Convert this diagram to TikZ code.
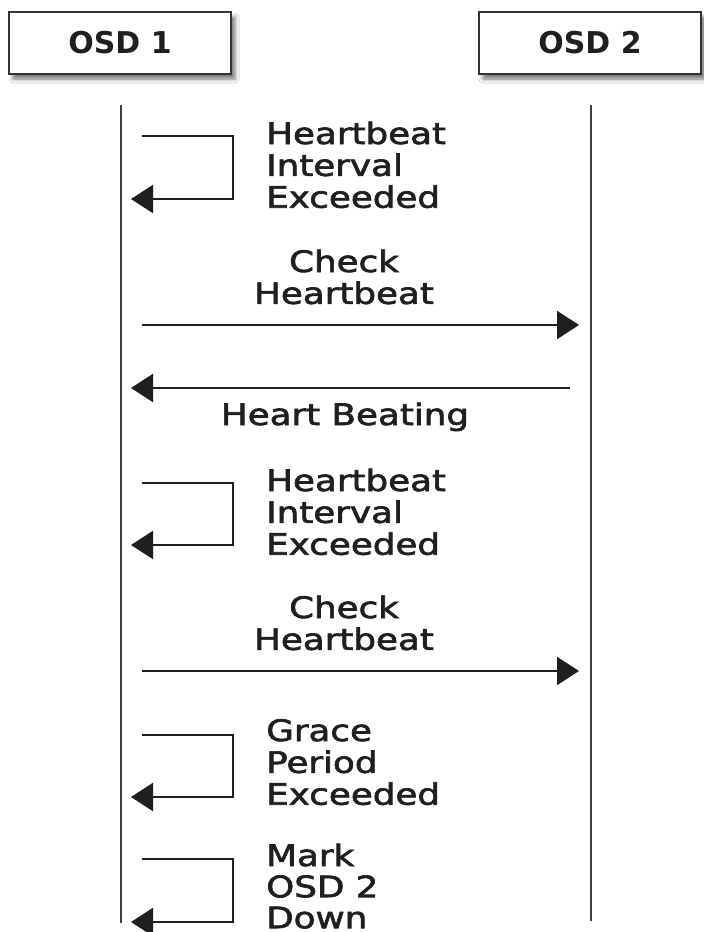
\documentclass[tikz,border=0pt]{standalone}
\usepackage{fontspec}
\setmainfont{DejaVu Sans}
\newfontfamily\msgfont[FakeStretch=1.21,FakeBold=2.2]{DejaVu Sans}
\newfontfamily\hdrfont{DejaVu Sans}
\usetikzlibrary{arrows.meta,shadows.blur}
\newcommand\msglines[3][31.5]{{\msgfont\fontsize{29.5}{#1}\selectfont\begin{tabular}[t]{@{}#2@{}}#3\end{tabular}}}
\begin{document}
\begin{tikzpicture}[x=1pt,y=-1pt,
  hdr/.style={draw=black!80, line width=2pt, fill=white, minimum width=222pt, minimum height=62pt, inner sep=0pt,
    font=\hdrfont\bfseries\fontsize{30}{36}\selectfont, text=black!88,
    blur shadow={shadow xshift=4pt, shadow yshift=-5pt, shadow blur radius=4pt, shadow opacity=55}},
  life/.style={draw=black!75, line width=2.2pt},
  msg/.style={draw=black!88, line width=2.2pt, -{Triangle[length=22pt,width=28pt]}},
  loop/.style={msg, line join=miter},
  lbl/.style={inner sep=0pt, text=black!88}]
\useasboundingbox (0,0) rectangle (704,932);
\fill[white] (0,0) rectangle (704,932);
% headers
\node[hdr] (osd1) at (120,43) {OSD 1};
\node[hdr] (osd2) at (590,43) {OSD 2};
% lifelines
\coordinate (l1a) at (121,105); \coordinate (l1b) at (121,923);
\coordinate (l2a) at (591,105); \coordinate (l2b) at (591,921);
\draw[life] (l1a) -- (l1b);
\draw[life] (l2a) -- (l2b);
% loop 1
\coordinate (s1a) at (142,136); \coordinate (s1b) at (233,136);
\coordinate (s1c) at (233,199); \coordinate (s1d) at (131,199);
\draw[loop] (s1a) -- (s1b) -- (s1c) -- (s1d);
\node[lbl, anchor=base west] (t1) at (266,144) {\msglines{l}{Heartbeat\\Interval\\Exceeded}};
% check 1
\node[lbl, anchor=base] (c1) at (344,272) {\msglines{c}{Check\\Heartbeat}};
\coordinate (m1s) at (142,325); \coordinate (m1e) at (579,325);
\draw[msg] (m1s) -- (m1e);
% heart beating
\coordinate (m2s) at (570,388); \coordinate (m2e) at (131,388);
\draw[msg] (m2s) -- (m2e);
\node[lbl, anchor=base] (hb) at (345,425) {\msglines{c}{Heart Beating}};
% loop 2
\coordinate (s2a) at (142,483); \coordinate (s2b) at (233,483);
\coordinate (s2c) at (233,545); \coordinate (s2d) at (131,545);
\draw[loop] (s2a) -- (s2b) -- (s2c) -- (s2d);
\node[lbl, anchor=base west] (t2) at (266,491) {\msglines{l}{Heartbeat\\Interval\\Exceeded}};
% check 2
\node[lbl, anchor=base] (c2) at (344,618) {\msglines{c}{Check\\Heartbeat}};
\coordinate (m3s) at (142,671); \coordinate (m3e) at (579,671);
\draw[msg] (m3s) -- (m3e);
% loop 3
\coordinate (s3a) at (142,735); \coordinate (s3b) at (233,735);
\coordinate (s3c) at (233,797); \coordinate (s3d) at (131,797);
\draw[loop] (s3a) -- (s3b) -- (s3c) -- (s3d);
\node[lbl, anchor=base west] (t3) at (266,741) {\msglines{l}{Grace\\Period\\Exceeded}};
% loop 4
\coordinate (s4a) at (142,859); \coordinate (s4b) at (233,859);
\coordinate (s4c) at (233,922); \coordinate (s4d) at (131,922);
\draw[loop] (s4a) -- (s4b) -- (s4c) -- (s4d);
\node[lbl, anchor=base west] (t4) at (266,866) {\msglines[31]{l}{Mark\\OSD 2\\Down}};
\end{tikzpicture}
\end{document}
